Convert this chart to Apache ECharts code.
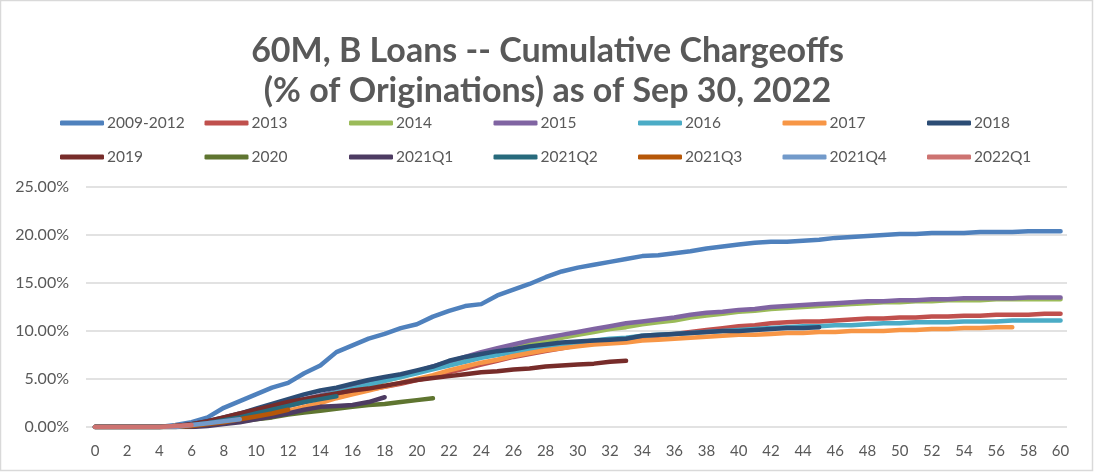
<!DOCTYPE html>
<html>
<head>
<meta charset="utf-8">
<script src="https://cdn.jsdelivr.net/npm/echarts@6/dist/echarts.min.js"></script>
<style>
html,body{margin:0;padding:0;background:#fff;}
#chart{width:1095px;height:474px;}
</style>
</head>
<body>
<div id="chart"></div>
<script>
const titleLines = ['60M, B Loans -- Cumulative Chargeoffs', '(% of Originations) as of Sep 30, 2022'];
const xTickLabels = [0,2,4,6,8,10,12,14,16,18,20,22,24,26,28,30,32,34,36,38,40,42,44,46,48,50,52,54,56,58,60];
const yTicks = [0,5,10,15,20,25];

const seriesNames = ['2009-2012','2013','2014','2015','2016','2017','2018','2019','2020','2021Q1','2021Q2','2021Q3','2021Q4','2022Q1'];

const v2009_2012 = [0,0,0,0,0,0.2,0.5,1.0,2.0,2.7,3.4,4.1,4.6,5.6,6.4,7.8,8.5,9.2,9.7,10.3,10.7,11.5,12.1,12.6,12.8,13.7,14.3,14.9,15.6,16.2,16.6,16.9,17.2,17.5,17.8,17.9,18.1,18.3,18.6,18.8,19.0,19.2,19.3,19.3,19.4,19.5,19.7,19.8,19.9,20.0,20.1,20.1,20.2,20.2,20.2,20.3,20.3,20.3,20.4,20.4,20.4];
const v2013 = [0,0,0,0,0,0.1,0.2,0.4,0.7,1.0,1.4,1.8,2.2,2.6,3.0,3.3,3.6,3.9,4.2,4.5,4.9,5.2,5.7,6.1,6.5,6.9,7.3,7.6,7.9,8.2,8.5,8.7,8.9,9.1,9.3,9.5,9.7,9.9,10.1,10.3,10.5,10.6,10.8,10.9,11.0,11.0,11.1,11.2,11.3,11.3,11.4,11.4,11.5,11.5,11.6,11.6,11.7,11.7,11.7,11.8,11.8];
const v2014 = [0,0,0,0,0,0.1,0.2,0.4,0.7,1.1,1.5,1.9,2.3,2.7,3.1,3.5,3.9,4.3,4.8,5.2,5.7,6.1,6.6,7.0,7.4,7.8,8.2,8.6,8.9,9.3,9.6,9.9,10.2,10.4,10.7,10.9,11.1,11.4,11.6,11.8,12.0,12.1,12.3,12.4,12.5,12.6,12.7,12.8,12.9,13.0,13.0,13.1,13.1,13.2,13.2,13.2,13.3,13.3,13.3,13.3,13.3];
const v2015 = [0,0,0,0,0,0.1,0.2,0.4,0.8,1.2,1.6,2.0,2.5,2.9,3.3,3.7,4.1,4.5,4.9,5.4,5.8,6.3,6.8,7.3,7.8,8.2,8.6,9.0,9.3,9.6,9.9,10.2,10.5,10.8,11.0,11.2,11.4,11.7,11.9,12.0,12.2,12.3,12.5,12.6,12.7,12.8,12.9,13.0,13.1,13.1,13.2,13.2,13.3,13.3,13.4,13.4,13.4,13.4,13.5,13.5,13.5];
const v2016 = [0,0,0,0,0,0.1,0.2,0.5,0.8,1.2,1.6,2.0,2.4,2.8,3.2,3.6,4.0,4.4,4.8,5.2,5.6,6.0,6.4,6.8,7.2,7.5,7.8,8.1,8.4,8.6,8.8,9.0,9.2,9.3,9.5,9.6,9.7,9.8,9.9,10.0,10.1,10.2,10.3,10.4,10.5,10.5,10.6,10.6,10.7,10.8,10.8,10.9,10.9,10.9,11.0,11.0,11.0,11.1,11.1,11.1,11.1];
const v2017 = [0,0,0,0,0,0.1,0.2,0.3,0.5,0.8,1.1,1.4,1.7,2.1,2.5,3.0,3.4,3.8,4.2,4.6,5.0,5.4,5.9,6.3,6.7,7.0,7.4,7.7,8.0,8.2,8.4,8.6,8.7,8.8,9.0,9.1,9.2,9.3,9.4,9.5,9.6,9.6,9.7,9.8,9.8,9.9,9.9,10.0,10.0,10.0,10.1,10.1,10.2,10.2,10.3,10.3,10.4,10.4];
const v2018 = [0,0,0,0,0,0.1,0.3,0.6,1.0,1.4,1.9,2.4,2.9,3.4,3.8,4.1,4.5,4.9,5.2,5.5,5.9,6.3,6.9,7.3,7.6,7.9,8.1,8.4,8.6,8.8,8.9,9.0,9.1,9.2,9.5,9.6,9.7,9.8,9.9,10.0,10.0,10.1,10.2,10.3,10.3,10.4];
const v2019 = [0,0,0,0,0,0.1,0.3,0.6,1.0,1.4,1.8,2.2,2.6,2.9,3.2,3.5,3.8,4.0,4.3,4.6,4.9,5.1,5.3,5.5,5.7,5.8,6.0,6.1,6.3,6.4,6.5,6.6,6.8,6.9];
const v2020 = [0,0,0,0,0,0,0.1,0.2,0.4,0.6,0.8,1.0,1.3,1.5,1.7,1.9,2.1,2.3,2.4,2.6,2.8,3.0];
const v2021Q1 = [0,0,0,0,0,0,0,0.1,0.3,0.5,0.8,1.1,1.4,1.8,2.1,2.2,2.3,2.6,3.1];
const v2021Q2 = [0,0,0,0,0,0,0.2,0.4,0.7,1.0,1.4,1.8,2.2,2.6,2.9,3.2];
const v2021Q3 = [0,0,0,0,0,0,0.1,0.3,0.5,0.8,1.1,1.4,1.8];
const v2021Q4 = [0,0,0,0,0,0,0.2,0.4,0.6,0.8];
const v2022Q1 = [0,0,0,0,0,0.1,0.2];

const seriesValues = [v2009_2012,v2013,v2014,v2015,v2016,v2017,v2018,v2019,v2020,v2021Q1,v2021Q2,v2021Q3,v2021Q4,v2022Q1];
const colors = ['#4F81BD','#C0504D','#9BBB59','#8064A2','#4BACC6','#F79646','#2C4D75','#772C2A','#5F7530','#4D3B62','#276A7C','#B65708','#729ACA','#CD7371'];

const FONT = 'Lato, "Noto Sans", sans-serif';
const TXT = '#595959';

const legends = seriesNames.map((n, i) => ({
  data: [n],
  left: 60 + (i % 7) * 144.5,
  top: i < 7 ? 115 : 149,
  icon: 'roundRect',
  itemWidth: 44,
  itemHeight: 5,
  itemGap: 0,
  padding: 0,
  textStyle: { fontFamily: FONT, fontSize: 15.5, color: TXT, padding: [0,0,0,-2] }
}));

const series = seriesNames.map((n, i) => ({
  name: n,
  type: 'line',
  data: seriesValues[i].map((v, k) => [k, v]),
  symbol: 'none',
  color: colors[i],
  lineStyle: { width: 4.5, color: colors[i], cap: 'round', join: 'round' },
  z: 2 + i
}));

const chart = echarts.init(document.getElementById('chart'), null, { renderer: 'canvas' });
chart.setOption({
  animation: false,
  backgroundColor: '#fff',
  color: colors,
  title: {
    text: titleLines.join('\n'),
    left: 'center',
    top: 26,
    textStyle: { fontFamily: FONT, fontSize: 34, fontWeight: 'bold', color: TXT, lineHeight: 40 }
  },
  legend: legends,
  grid: { left: 86, right: 28, top: 187, bottom: 47, containLabel: false },
  xAxis: {
    type: 'value',
    min: -0.56,
    max: 60.4,
    axisLine: { show: false },
    axisTick: { show: false },
    splitLine: { show: false },
    axisLabel: {
      customValues: xTickLabels,
      fontFamily: FONT, fontSize: 15, color: TXT, margin: 17
    }
  },
  yAxis: {
    type: 'value',
    min: 0, max: 25, interval: 5,
    axisLine: { show: false },
    axisTick: { show: false },
    splitLine: { lineStyle: { color: '#D9D9D9', width: 1.5 } },
    axisLabel: {
      formatter: v => v.toFixed(2) + '%',
      fontFamily: FONT, fontSize: 16, color: TXT, margin: 17
    }
  },
  graphic: [{
    type: 'rect',
    shape: { x: 0.5, y: 0.5, width: 1092, height: 470 },
    style: { fill: 'none', stroke: '#D9D9D9', lineWidth: 1.5 },
    silent: true
  }],
  series: series
});
</script>
</body>
</html>
